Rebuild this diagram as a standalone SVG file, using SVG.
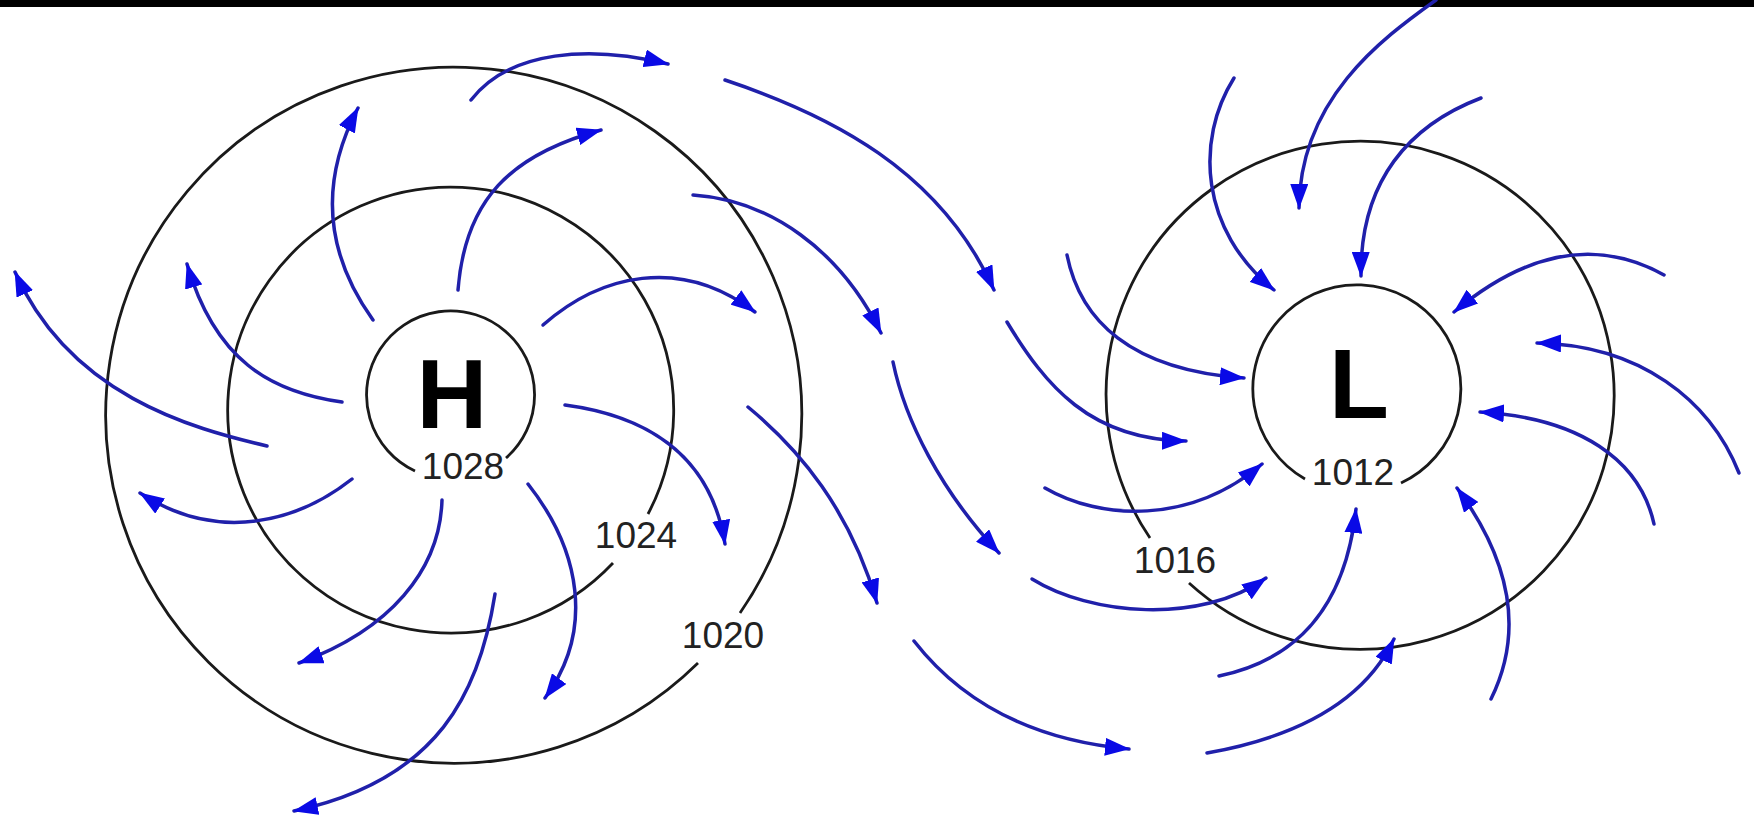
<svg xmlns="http://www.w3.org/2000/svg" width="1754" height="822" viewBox="0 0 1754 822">
<defs>
<style>
.iso{fill:none;stroke:#1a1a1a;stroke-width:2.8}
.lbl{font-family:"Liberation Sans",Arial,sans-serif;font-size:37px;fill:#222;text-anchor:middle}
.big{font-family:"Liberation Sans",Arial,sans-serif;font-weight:bold;font-size:98px;fill:#000}
.wind{fill:none;stroke:#2020aa;stroke-width:3.5;stroke-linecap:round;marker-end:url(#ah)}
</style>
<marker id="ah" markerUnits="userSpaceOnUse" markerWidth="26" markerHeight="18" refX="24" refY="9" orient="auto" viewBox="0 0 26 18">
<path d="M0,0 L25,9 L0,18 Z" fill="#0a0ae6"/>
</marker>
</defs>
<rect x="0" y="0" width="1754" height="822" fill="#fff"/>
<rect x="0" y="0" width="1754" height="7" fill="#000"/>

<g id="high">
<path class="iso" d="M506,458 A84,84 0 1 0 415,471"/>
<text class="big" x="452" y="428" text-anchor="middle">H</text>
<text class="lbl" x="463" y="479">1028</text>
</g>
<g id="isobar-1024">
<path class="iso" d="M648,514 A223,223 0 1 0 613,563"/>
<text class="lbl" x="636" y="548">1024</text>
</g>
<g id="isobar-1020">
<path class="iso" d="M740,613 A348,348 0 1 0 698,663"/>
<text class="lbl" x="723" y="648">1020</text>
</g>
<g id="low">
<path class="iso" d="M1401,483 A104,104 0 1 0 1305,479"/>
<text class="big" x="1329" y="418">L</text>
<text class="lbl" x="1353" y="485">1012</text>
</g>
<g id="isobar-1016">
<path class="iso" d="M1150,538 A254,254 0 1 1 1189,583"/>
<text class="lbl" x="1175" y="573">1016</text>
</g>

<g id="connectors">
<path class="wind" d="M267,446 C190,428 70,395 15,272"/>
<path class="wind" d="M342,402 C270,392 215,360 187,264"/>
<path class="wind" d="M373,320 C330,260 315,190 358,108"/>
<path class="wind" d="M471,100 C510,50 590,45 668,64"/>
<path class="wind" d="M458,290 C465,200 510,155 601,130"/>
<path class="wind" d="M543,325 C600,275 680,255 755,312"/>
<path class="wind" d="M565,405 C640,415 710,450 725,544"/>
<path class="wind" d="M528,484 C580,550 595,630 545,698"/>
<path class="wind" d="M495,594 C480,690 440,780 294,811"/>
<path class="wind" d="M442,500 C440,570 390,630 299,663"/>
<path class="wind" d="M352,479 C300,520 220,545 140,493"/>

<path class="wind" d="M725,80 C830,115 940,170 994,290"/>
<path class="wind" d="M693,195 C770,200 840,250 881,333"/>
<path class="wind" d="M893,362 C905,420 940,490 999,553"/>
<path class="wind" d="M748,407 C800,450 850,510 877,603"/>
<path class="wind" d="M1007,322 C1045,385 1090,440 1186,441"/>
<path class="wind" d="M1067,255 C1080,320 1130,370 1244,378"/>
<path class="wind" d="M1045,488 C1100,520 1190,525 1262,464"/>
<path class="wind" d="M1032,579 C1090,615 1200,625 1266,578"/>
<path class="wind" d="M914,641 C960,700 1030,740 1129,749"/>
<path class="wind" d="M1207,753 C1280,740 1360,710 1394,639"/>

<path class="wind" d="M1436,0 C1380,40 1300,100 1299,208"/>
<path class="wind" d="M1234,78 C1195,140 1200,230 1274,290"/>
<path class="wind" d="M1481,98 C1410,125 1360,180 1361,276"/>
<path class="wind" d="M1664,275 C1610,245 1540,240 1454,312"/>
<path class="wind" d="M1739,473 C1710,400 1640,345 1537,343"/>
<path class="wind" d="M1654,524 C1640,460 1580,418 1480,412"/>
<path class="wind" d="M1491,699 C1525,630 1510,560 1457,488"/>
<path class="wind" d="M1219,676 C1295,660 1345,610 1356,509"/>
</g>
</svg>
